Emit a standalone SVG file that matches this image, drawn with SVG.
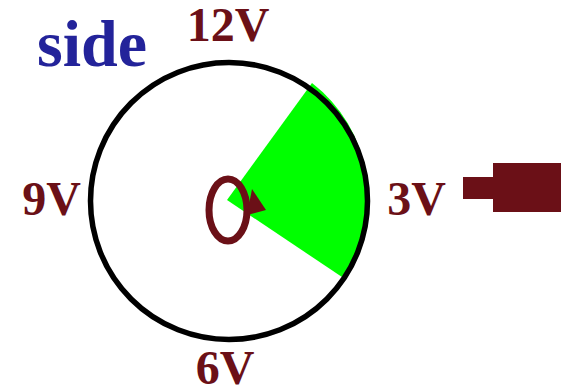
<svg xmlns="http://www.w3.org/2000/svg" width="566" height="389" viewBox="0 0 566 389">
<style>
.lbl{font-family:"Liberation Serif","Times New Roman",serif;font-weight:bold;font-size:48px;fill:#6b1017;text-anchor:middle}
.ttl{font-family:"Liberation Serif","Times New Roman",serif;font-weight:bold;font-size:66px;fill:#23239a}
</style>
<rect width="566" height="389" fill="#ffffff"/>
<g id="sector">
<path d="M227,200 L312,83 A142,142 0 0,1 342,277 Z" fill="#00ff00"/>
</g>
<g id="dial">
<circle cx="229" cy="201" r="138.5" fill="none" stroke="#000000" stroke-width="5.5"/>
</g>
<g id="rotation">
<ellipse cx="228" cy="210" rx="19" ry="31" fill="none" stroke="#6b1017" stroke-width="7"/>
<polygon points="252,189 266,210 247,215" fill="#6b1017"/>
</g>
<g id="plug">
<rect x="463" y="177" width="30" height="22" fill="#6b1017"/>
<rect x="493" y="163" width="68" height="49" fill="#6b1017"/>
</g>
<g id="labels">
<text class="ttl" x="37" y="66">side</text>
<text class="lbl" x="228" y="41">12V</text>
<text class="lbl" x="51.5" y="215">9V</text>
<text class="lbl" x="416.5" y="215">3V</text>
<text class="lbl" x="225" y="384">6V</text>
</g>
</svg>
